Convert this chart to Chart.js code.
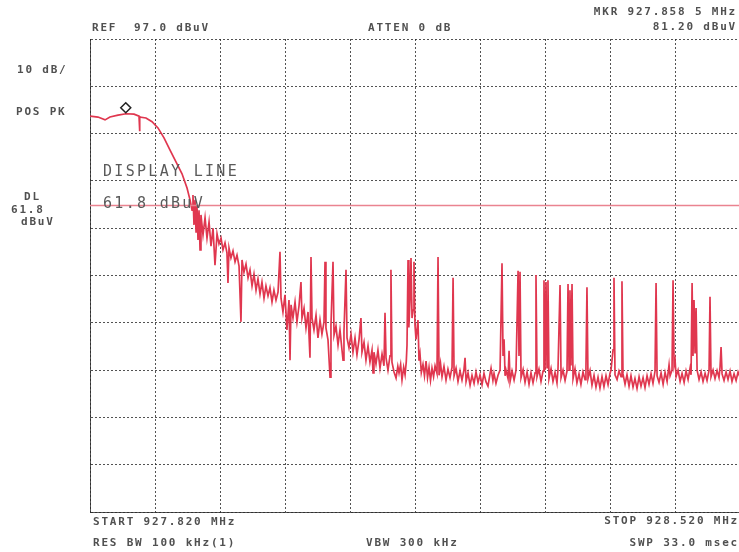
<!DOCTYPE html>
<html>
<head>
<meta charset="utf-8">
<script src="https://cdn.jsdelivr.net/npm/chart.js@4"></script>
<style>
  html, body { margin: 0; padding: 0; background: #fff; overflow: hidden; }
  #wrap { position: relative; width: 750px; height: 552px; }
</style>
</head>
<body>
<div id="wrap"><canvas id="spec"></canvas></div>
<script>
// sweep 927.820 -> 928.520 MHz, offsets in kHz from start
const START_MHZ = 927.820;
const SPAN_KHZ = 700;
const REF_DBUV = 97;
const DB_PER_DIV = 10;

// passband and first part of the roll-off
const passKHz = [
  0, 8.6, 16.2, 21.5, 30.2, 38.8, 47.4, 52.8, 53.3, 53.8,
  60.3, 66.8, 73.2, 79.7, 86.2, 92.6, 99.1, 104.5, 107.7, 109.9,
  110.9, 112.0, 113.1, 114.2, 115.2, 116.3, 117.4, 118.5, 119.5, 121.7,
  123.9, 126.0, 128.2, 130.3, 132.5
];
const passDbuv = [
  80.7, 80.5, 79.9, 80.5, 80.9, 81.2, 81.1, 80.7, 77.5, 80.5,
  80.3, 79.5, 78.2, 76.1, 73.5, 71.0, 68.5, 65.5, 63.0, 60.8,
  64.0, 57.7, 63.0, 56.2, 61.9, 54.5, 60.8, 52.4, 59.8, 55.6,
  59.2, 54.9, 58.3, 53.2, 57.0
];

// noisy skirt down to the floor
const skirtKHz = [
  134.6, 136.8, 138.9, 141.1, 143.2, 145.4, 147.5, 148.6, 149.7, 151.8,
  154.0, 156.2, 158.3, 160.5, 162.6, 163.7, 165.8, 168.0, 170.2, 172.3,
  174.5, 176.6, 178.8, 180.9, 183.1, 185.2, 187.4, 189.5, 191.7, 193.8,
  196.0, 198.1, 200.3, 202.5, 204.6, 205.7, 207.8, 210.0, 212.1, 214.3,
  215.4, 216.5, 218.6, 220.8, 222.9, 225.1, 227.2, 228.3, 230.5, 232.6,
  234.8, 236.9, 238.0, 239.1, 241.2, 243.4, 245.5, 247.7, 249.8, 252.0,
  253.1, 254.1, 256.3, 258.5, 259.5, 261.7, 262.8, 264.9, 267.1, 269.2,
  271.4, 272.5, 273.5, 275.7, 276.8, 278.9, 281.1, 283.2, 285.4, 287.5,
  289.7, 291.8, 292.9, 295.1, 297.2, 299.4, 301.5, 303.7, 304.8, 305.8,
  308.0, 310.1, 312.3, 314.5, 316.6, 317.7, 318.8, 320.9, 323.1, 324.1,
  325.2, 327.4
];
const skirtDbuv = [
  49.2, 55.8, 53.7, 54.9, 52.4, 53.9, 51.8, 45.4, 52.8, 50.7,
  52.2, 49.9, 51.3, 49.0, 37.2, 50.3, 47.7, 49.4, 46.5, 48.2,
  44.8, 47.3, 43.9, 46.3, 43.1, 45.6, 42.2, 44.8, 42.7, 44.4,
  41.4, 43.9, 41.8, 43.5, 52.0, 42.2, 39.3, 42.9, 35.5, 41.8,
  29.1, 40.8, 38.0, 41.4, 37.2, 40.6, 45.6, 38.0, 40.1, 35.9,
  39.3, 29.6, 50.9, 38.0, 35.5, 38.6, 33.8, 37.6, 34.6, 37.2,
  49.9, 35.9, 33.4, 25.5, 36.5, 49.9, 34.4, 36.3, 32.3, 35.5,
  31.2, 29.1, 35.1, 48.2, 33.8, 31.7, 34.6, 30.8, 33.8, 30.2,
  33.4, 38.0, 30.8, 32.9, 29.1, 32.1, 28.7, 31.2, 26.4, 30.8,
  28.3, 31.2, 27.4, 30.4, 27.9, 39.1, 29.6, 27.0, 30.0, 48.2,
  28.7, 26.6
];

// noise floor with the spurs
const floorKHz = [
  329.6, 331.5, 332.8, 334.5, 336.0, 337.8, 339.3, 340.6, 341.4, 342.5,
  343.4, 344.6, 345.7, 346.8, 347.9, 348.9, 350.0, 351.1, 353.2, 354.3,
  355.4, 356.8, 358.6, 360.2, 361.9, 363.5, 365.1, 366.7, 368.3, 370.0,
  371.6, 373.7, 374.8, 375.9, 377.5, 379.1, 381.2, 383.4, 385.5, 387.7,
  389.9, 391.0, 392.1, 394.2, 396.3, 398.5, 400.6, 402.7, 403.9, 405.0,
  407.1, 409.3, 411.4, 413.6, 415.7, 417.9, 420.0, 422.2, 424.3, 426.5,
  428.6, 430.8, 431.9, 433.9, 435.1, 437.2, 439.4, 441.6, 443.7, 444.8,
  445.9, 447.0, 448.0, 450.2, 451.3, 452.4, 454.5, 456.7, 458.8, 461.0,
  462.0, 463.1, 464.2, 466.4, 468.5, 470.7, 472.8, 474.9, 477.1, 479.3,
  480.3, 481.4, 483.5, 485.7, 487.9, 488.9, 490.0, 491.1, 492.2, 493.2,
  494.3, 496.5, 498.6, 500.8, 502.9, 504.0, 506.2, 507.3, 509.4, 511.6,
  513.7, 514.8, 515.9, 516.9, 518.0, 519.1, 520.2, 522.3, 524.4, 526.6,
  528.7, 530.9, 533.1, 534.1, 535.2, 536.3, 538.5, 540.6, 542.8, 544.9,
  547.1, 549.2, 551.4, 553.5, 555.7, 557.9, 560.0, 561.1, 563.3, 564.3,
  565.4, 567.6, 569.7, 571.9, 572.9, 574.0, 576.2, 578.3, 580.5, 582.6,
  584.8, 586.9, 589.1, 591.3, 593.4, 595.6, 597.7, 599.9, 602.0, 604.2,
  606.3, 608.5, 609.6, 610.7, 612.8, 615.0, 617.2, 619.3, 621.5, 623.6,
  624.7, 626.8, 627.9, 629.0, 630.1, 631.2, 633.3, 635.5, 637.6, 639.8,
  641.9, 644.1, 646.2, 647.3, 648.4, 649.4, 650.5, 651.6, 652.7, 653.8,
  655.9, 658.1, 660.2, 662.4, 664.5, 666.7, 667.7, 668.8, 671.0, 673.1,
  675.3, 677.4, 678.5, 679.6, 680.7, 682.8, 685.0, 687.1, 689.3, 691.4,
  693.6, 695.8, 697.9, 700.0
];
const floorDbuv = [
  25.3, 27.8, 26.4, 28.2, 24.9, 27.6, 26.0, 28.8, 32.3, 50.3,
  36.0, 41.8, 50.7, 38.0, 39.7, 49.9, 36.5, 33.5, 37.6, 29.0,
  30.4, 26.5, 28.2, 25.8, 28.9, 25.4, 27.6, 24.8, 27.4, 25.6,
  27.9, 26.3, 50.9, 25.9, 28.4, 25.6, 27.8, 24.9, 27.2, 25.4,
  27.6, 46.5, 25.8, 27.4, 24.6, 26.8, 24.9, 27.0, 29.6, 24.6,
  26.4, 23.8, 25.9, 24.2, 26.6, 24.4, 26.0, 23.9, 26.3, 24.5,
  23.6, 26.2, 27.4, 24.8, 26.3, 24.2, 25.9, 27.0, 49.6, 30.0,
  33.5, 25.8, 27.0, 25.2, 31.1, 24.6, 26.8, 24.9, 27.0, 48.0,
  30.0, 47.8, 25.4, 27.1, 24.4, 26.6, 24.0, 26.4, 24.3, 26.4,
  47.1, 25.6, 27.2, 24.6, 26.8, 46.0, 27.0, 45.6, 27.5, 46.0,
  25.2, 27.3, 24.6, 26.5, 24.3, 27.2, 45.0, 25.4, 27.0, 24.8,
  26.8, 45.2, 27.0, 43.9, 28.0, 45.2, 25.2, 27.3, 24.3, 26.2,
  24.0, 26.6, 25.0, 27.4, 44.5, 25.2, 26.9, 23.8, 25.9, 23.4,
  25.5, 23.2, 25.6, 23.5, 25.8, 23.9, 26.3, 27.0, 31.3, 46.5,
  26.0, 25.0, 26.8, 25.6, 45.8, 26.2, 24.0, 26.0, 23.6, 25.8,
  23.4, 25.2, 23.1, 25.6, 23.6, 25.4, 23.3, 25.8, 24.0, 26.2,
  24.2, 26.8, 45.4, 25.8, 24.4, 26.4, 24.0, 26.5, 24.6, 28.1,
  25.8, 27.0, 46.0, 28.0, 29.1, 25.6, 27.0, 24.6, 26.3, 24.4,
  26.8, 25.0, 27.4, 26.0, 45.4, 30.0, 41.8, 30.5, 40.1, 27.0,
  25.0, 26.6, 24.6, 26.3, 24.8, 27.0, 42.5, 25.6, 27.0, 25.2,
  26.9, 25.4, 27.6, 31.9, 26.2, 24.8, 26.6, 25.0, 26.8, 24.6,
  26.2, 24.8, 26.6, 25.5
];

const displayLineDbuv = 61.8;
const markerKHz = 38.5;   // 927.858 5 MHz
const markerDbuv = 81.20;

const xGrid = [0, 70, 140, 210, 280, 350, 420, 490, 560, 630, 700];
const yGrid = [-3, 7, 17, 27, 37, 47, 57, 67, 77, 87, 97];

const traceKHz = passKHz.concat(skirtKHz, floorKHz);
const traceDbuv = passDbuv.concat(skirtDbuv, floorDbuv);

const MONO = '"DejaVu Sans Mono", "Liberation Mono", monospace';
const INK = '#505050';

// analyzer annotations, drawn onto the canvas
const annotations = {
  id: 'annotations',
  afterDraw(chart) {
    const ctx = chart.ctx;
    const x = chart.scales.x, y = chart.scales.y;
    ctx.save();
    ctx.fillStyle = INK;
    ctx.textBaseline = 'middle';
    ctx.font = 'bold 11px ' + MONO;
    ctx.letterSpacing = '1.8px';

    const left = (t, px, py) => { ctx.textAlign = 'left'; ctx.fillText(t, px, py); };
    const right = (t, px, py) => { ctx.textAlign = 'right'; ctx.fillText(t, px, py); };

    left('REF  97.0 dBuV', 92, 28);
    left('ATTEN 0 dB', 368, 28);
    right('MKR 927.858 5 MHz', 737, 12);
    right('81.20 dBuV', 737, 27);

    left('10 dB/', 17, 70);
    left('POS PK', 16, 112);
    left('DL', 24, 197);
    left('61.8', 11, 210);
    left('dBuV', 21, 222);

    left('START 927.820 MHz', 93, 522);
    left('RES BW 100 kHz(1)', 93, 543);
    left('VBW 300 kHz', 366, 543);
    right('STOP 928.520 MHz', 739, 521);
    right('SWP 33.0 msec', 739, 543);

    // display line label
    ctx.fillStyle = '#5a5a5a';
    ctx.font = '15px ' + MONO;
    ctx.letterSpacing = '2.3px';
    left('DISPLAY LINE', 103, 172);
    left('61.8 dBuV', 103, 204);

    // marker diamond sitting on the trace
    const mx = x.getPixelForValue(markerKHz);
    const my = y.getPixelForValue(markerDbuv) - 6;
    ctx.strokeStyle = '#222';
    ctx.lineWidth = 1.5;
    ctx.beginPath();
    ctx.moveTo(mx, my - 5);
    ctx.lineTo(mx + 5, my);
    ctx.lineTo(mx, my + 5);
    ctx.lineTo(mx - 5, my);
    ctx.closePath();
    ctx.fillStyle = '#fff';
    ctx.fill();
    ctx.stroke();
    ctx.restore();
  }
};

const gridOpts = {
  color: 'rgba(40,40,40,0.8)',
  lineWidth: 1,
  drawTicks: false
};

new Chart(document.getElementById('spec'), {
  type: 'scatter',
  data: {
    datasets: [
      {
        label: 'display line',
        data: [{ x: 0, y: displayLineDbuv }, { x: SPAN_KHZ, y: displayLineDbuv }],
        showLine: true,
        borderColor: '#ea8390',
        borderWidth: 1.4,
        pointRadius: 0
      },
      {
        label: 'trace',
        data: traceKHz.map((f, i) => ({ x: f, y: traceDbuv[i] })),
        showLine: true,
        borderColor: '#e0374f',
        borderWidth: 1.7,
        pointRadius: 0,
        tension: 0
      }
    ]
  },
  options: {
    responsive: true,
    maintainAspectRatio: false,
    animation: false,
    layout: { padding: { left: 90, top: 39, right: 10, bottom: 40 } },
    plugins: { legend: { display: false }, tooltip: { enabled: false } },
    scales: {
      x: {
        type: 'linear',
        min: 0,
        max: SPAN_KHZ,
        afterBuildTicks: s => { s.ticks = xGrid.map(v => ({ value: v })); },
        ticks: { display: false },
        grid: gridOpts,
        border: { display: true, color: 'rgba(40,40,40,0.8)', dash: [2, 2] }
      },
      y: {
        type: 'linear',
        min: REF_DBUV - 10 * DB_PER_DIV,
        max: REF_DBUV,
        afterBuildTicks: s => { s.ticks = yGrid.map(v => ({ value: v })); },
        ticks: { display: false },
        grid: gridOpts,
        border: { display: true, color: 'rgba(40,40,40,0.8)', dash: [2, 2] }
      }
    }
  },
  plugins: [annotations]
});
</script>
</body>
</html>
